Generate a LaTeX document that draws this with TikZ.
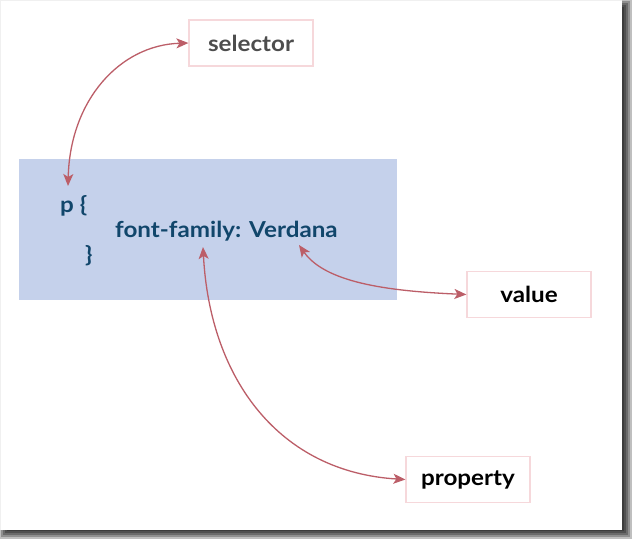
\documentclass[tikz,border=0pt]{standalone}
\usepackage{fontspec}
\setmainfont{Lato}[FakeStretch=1.1]
\usetikzlibrary{arrows.meta}
\definecolor{codeblue}{HTML}{C5D1EB}
\definecolor{codetext}{HTML}{11466B}
\definecolor{arrowred}{HTML}{BC5E68}
\definecolor{boxline}{HTML}{F6D8DB}
\definecolor{seltext}{HTML}{4D4D4D}
\tikzset{
  lbl/.style={draw=boxline, line width=1.2pt, fill=white, minimum width=124pt, minimum height=46pt, font=\bfseries\fontsize{22}{24}\selectfont, inner sep=0pt},
  code/.style={font=\bfseries\fontsize{22}{24}\selectfont, text=codetext, anchor=base west, inner sep=0pt},
  conn/.style={draw=arrowred, line width=1.3pt, {Stealth[length=12pt,width=10pt,inset=3pt]}-{Stealth[length=12pt,width=10pt,inset=3pt]}}
}
\begin{document}
\begin{tikzpicture}[x=1pt,y=-1pt]
\useasboundingbox (0,0) rectangle (633,541);
% shadow
\foreach \d in {-4,-2,0,2,4}{
  \fill[black,opacity=0.25] (3+\d,3+\d) rectangle (628-\d,535-\d);
}
\fill[white] (0,0) rectangle (622,530);
\draw[gray!12, line width=0.8pt] (0.5,530) -- (0.5,0.5) -- (622,0.5);
% code block
\fill[codeblue] (19,159) rectangle (397,300);
\node[code] (p) at (60,212) {p \{};
\node[code] (ff) at (115,237) {font-family: Verdana};
\node[code] (cb) at (85,262) {\}};
\coordinate (pt) at (68,186);
\coordinate (vt) at (299,245);
\coordinate (ft) at (203,247);
% label boxes
\node[lbl, text=seltext] (sel) at (251,43) {selector};
\node[lbl, text=black] (val) at (529,294.5) {value};
\node[lbl, text=black] (prop) at (468,479.5) {property};
% connectors
\draw[conn] (pt) .. controls (70,100) and (120,45) .. (sel.west);
\draw[conn] (vt) .. controls (325,282) and (385,291) .. (val.west);
\draw[conn] (ft) .. controls (210,380) and (280,472) .. (prop.west);
\end{tikzpicture}
\end{document}
